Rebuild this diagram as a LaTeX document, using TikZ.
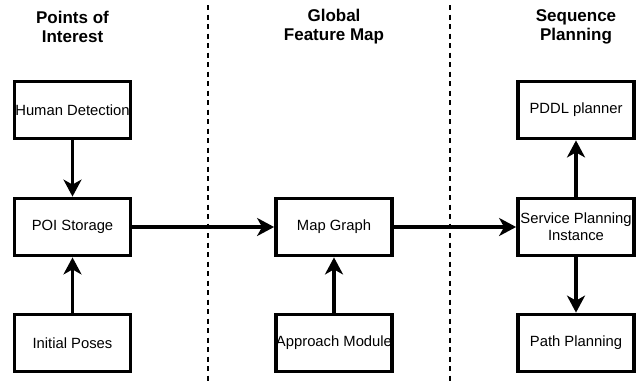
\documentclass[tikz,border=0pt]{standalone}
\usepackage{fontspec}
\setmainfont{Liberation Sans}
\usetikzlibrary{arrows.meta}
\begin{document}
\begin{tikzpicture}[x=1pt,y=-1pt,
  box/.style={draw=black,line width=3.8pt,minimum width=116pt,minimum height=57pt,inner sep=0pt,align=center,font=\fontsize{14.8}{17}\selectfont},
  title/.style={align=center,font=\fontsize{17}{19}\selectfont\bfseries},
  conn/.style={line width=3.2pt,-{Stealth[length=17pt,width=18pt,inset=5pt]}},
  sep/.style={line width=1.6pt,dash pattern=on 5pt off 4.5pt}]
\useasboundingbox (0,0) rectangle (637,381);
\node[title] (t1) at (72.5,27) {Points of\\Interest};
\node[title] (t2) at (334,27) {Global\\Feature Map};
\node[title] (t3) at (576,27) {Sequence\\Planning};
\coordinate (d1a) at (208,5); \coordinate (d1b) at (208,381);
\coordinate (d2a) at (450,5); \coordinate (d2b) at (450,381);
\draw[sep] (d1a) -- (d1b);
\draw[sep] (d2a) -- (d2b);
\node[box] (hd) at (72.5,110) {Human Detection};
\node[box] (poi) at (72.5,227) {POI Storage};
\node[box] (ip) at (72.5,343) {Initial Poses};
\node[box] (mg) at (334,227) {Map Graph};
\node[box] (am) at (334,343) {Approach Module};
\node[box] (pd) at (576,110) {PDDL planner};
\node[box] (sp) at (576,227) {Service Planning\\Instance};
\node[box] (pp) at (576,343) {Path Planning};
\draw[conn] (hd) -- (poi);
\draw[conn] (ip) -- (poi);
\draw[conn] (poi) -- (mg);
\draw[conn] (am) -- (mg);
\draw[conn] (mg) -- (sp);
\draw[conn] (sp) -- (pd);
\draw[conn] (sp) -- (pp);
\end{tikzpicture}
\end{document}
